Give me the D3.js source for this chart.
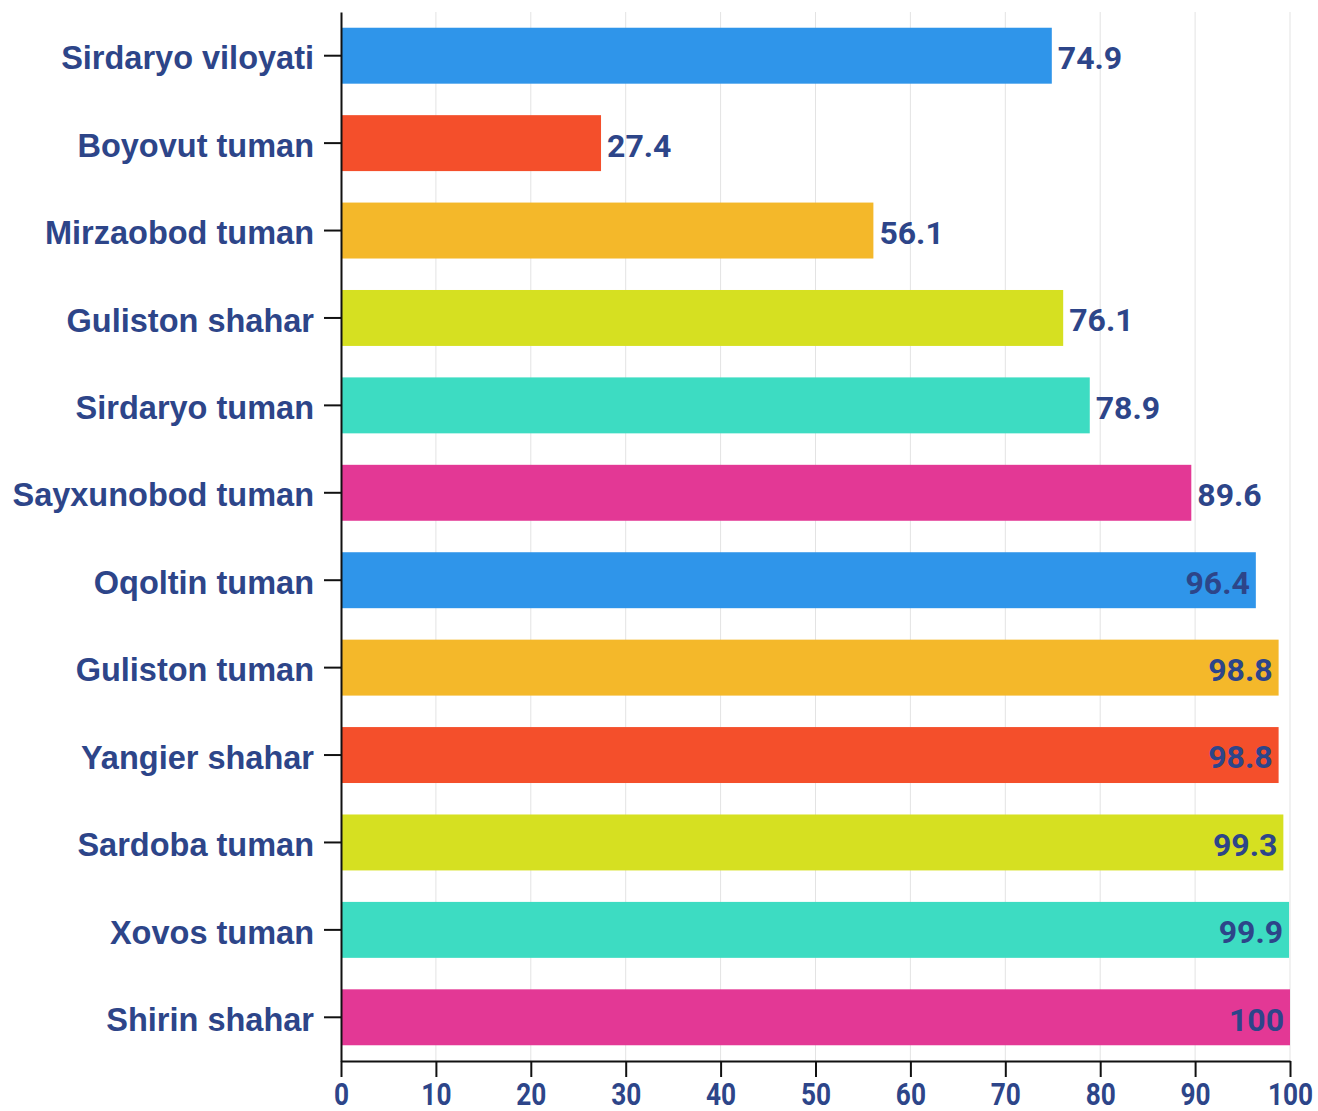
<!DOCTYPE html>
<html>
<head>
<meta charset="utf-8">
<script src="https://cdn.jsdelivr.net/npm/d3@7"></script>
<style>
  body { margin: 0; background: #fff; }
  svg { display: block; }
</style>
</head>
<body>
<script>
var regions = ['Sirdaryo viloyati', 'Boyovut tuman', 'Mirzaobod tuman', 'Guliston shahar',
  'Sirdaryo tuman', 'Sayxunobod tuman', 'Oqoltin tuman', 'Guliston tuman',
  'Yangier shahar', 'Sardoba tuman', 'Xovos tuman', 'Shirin shahar'];
var values = [74.9, 27.4, 56.1, 76.1, 78.9, 89.6, 96.4, 98.8, 98.8, 99.3, 99.9, 100];
var barColors = ['#2f95ea', '#f44f2b', '#f4b82a', '#d6e021', '#3ddcc2', '#e33895',
  '#2f95ea', '#f4b82a', '#f44f2b', '#d6e021', '#3ddcc2', '#e33895'];
var xTicks = [0, 10, 20, 30, 40, 50, 60, 70, 80, 90, 100];

var W = 1318, H = 1111;
var margin = { top: 12, right: 28, bottom: 50, left: 341 };
var w = W - margin.left - margin.right;
var h = H - margin.top - margin.bottom;
var textColor = '#2d4589';

var svg = d3.select('body').append('svg')
  .attr('width', W)
  .attr('height', H);
var g = svg.append('g')
  .attr('transform', 'translate(' + margin.left + ',' + margin.top + ')');

var x = d3.scaleLinear().domain([0, 100]).range([0, w]);
var y = d3.scaleBand().domain(regions).range([0, h])
  .paddingInner(0.36).paddingOuter(0.18);

// grid lines
g.selectAll('line.grid')
  .data(xTicks.slice(1))
  .enter()
  .append('line')
  .attr('class', 'grid')
  .attr('x1', function (d) { return x(d); })
  .attr('x2', function (d) { return x(d); })
  .attr('y1', 0)
  .attr('y2', h)
  .attr('stroke', '#e3e3e3')
  .attr('stroke-width', 1);

// bars
g.selectAll('rect.bar')
  .data(values)
  .enter()
  .append('rect')
  .attr('class', 'bar')
  .attr('x', 0)
  .attr('y', function (d, i) { return y(regions[i]); })
  .attr('width', function (d) { return x(d); })
  .attr('height', y.bandwidth())
  .attr('fill', function (d, i) { return barColors[i]; });

// value labels: outside the bar unless it would run past the plot
g.selectAll('text.val')
  .data(values)
  .enter()
  .append('text')
  .attr('class', 'val')
  .attr('y', function (d, i) { return y(regions[i]) + y.bandwidth() / 2; })
  .attr('dy', '0.42em')
  .style('font-family', 'Roboto, sans-serif')
  .style('font-weight', 'bold')
  .style('font-size', '32px')
  .attr('fill', textColor)
  .text(function (d) { return d; })
  .each(function (d) {
    var t = d3.select(this);
    var len = this.getComputedTextLength();
    if (x(d) + 6 + len > w) {
      t.attr('x', x(d) - 6).attr('text-anchor', 'end');
    } else {
      t.attr('x', x(d) + 6).attr('text-anchor', 'start');
    }
  });

// y axis
var yAxis = g.append('g')
  .call(d3.axisLeft(y).tickSize(17).tickPadding(10).tickSizeOuter(0));
yAxis.select('.domain').attr('stroke', '#111').attr('stroke-width', 2);
yAxis.selectAll('.tick line').attr('stroke', '#111').attr('stroke-width', 2);
yAxis.selectAll('.tick text')
  .style('font-family', '"Liberation Sans", Arial, sans-serif')
  .style('font-weight', 'bold')
  .style('font-size', '32.5px')
  .attr('dy', '0.42em')
  .attr('fill', textColor);

// x axis
var xAxis = g.append('g')
  .attr('transform', 'translate(0,' + h + ')')
  .call(d3.axisBottom(x).tickValues(xTicks).tickSize(16).tickPadding(5).tickSizeOuter(0));
xAxis.select('.domain').attr('stroke', '#111').attr('stroke-width', 2);
xAxis.selectAll('.tick line').attr('stroke', '#111').attr('stroke-width', 2);
xAxis.selectAll('.tick text')
  .style('font-family', 'Roboto, sans-serif')
  .style('font-weight', 'bold')
  .style('font-size', '32px')
  .attr('fill', textColor)
  .attr('transform', 'scale(0.82,1)')
  .attr('x', 0);
</script>
</body>
</html>
